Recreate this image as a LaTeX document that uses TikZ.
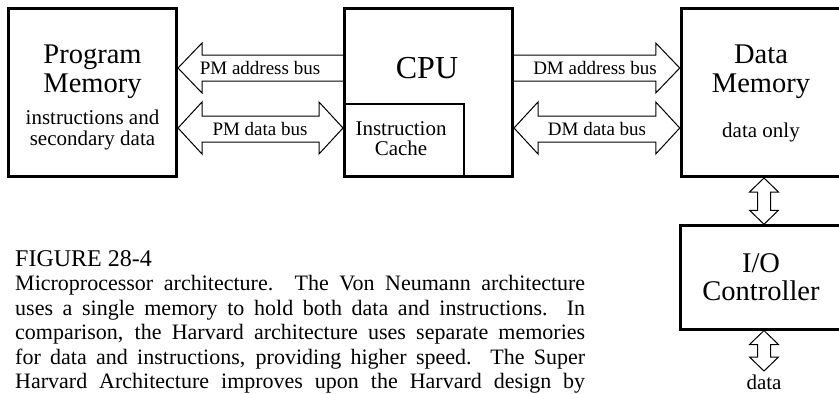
\documentclass[tikz,border=0pt]{standalone}
\usepackage{fontspec}
\setmainfont{Liberation Serif}
\usetikzlibrary{calc}
\begin{document}
\begin{tikzpicture}[x=1pt,y=-1pt,
  box/.style={draw,line width=3pt,inner sep=0pt},
  cachebox/.style={draw,line width=2pt,inner sep=0pt},
  bus/.style={draw,line width=1pt,line join=miter},
  lbltxt/.style={inner sep=0pt,anchor=base},
  bigtxt/.style={lbltxt,font=\fontsize{28.5}{30}\selectfont},
  hugetxt/.style={lbltxt,font=\fontsize{32}{34}\selectfont},
  midtxt/.style={lbltxt,font=\fontsize{21}{23}\selectfont},
  smalltxt/.style={lbltxt,font=\fontsize{19}{21}\selectfont},
  captxt/.style={inner sep=0pt,anchor=base west,font=\fontsize{22}{24.8}\selectfont},
  capfig/.style={captxt,font=\fontsize{24}{26}\selectfont}]
\useasboundingbox (0,0) rectangle (839,394);
\clip (0,0) rectangle (839,394);

% boxes
\node[box,minimum width=168pt,minimum height=168pt] (pm) at (92.5,92.5) {};
\node[box,minimum width=168pt,minimum height=168pt] (cpu) at (428.5,92.5) {};
\node[cachebox,minimum width=119.8pt,minimum height=72.2pt] (cache) at (404.4,140.4) {};
\node[box,minimum width=160.5pt,minimum height=168pt] (dm) at (761.5,92.5) {};
\node[box,minimum width=160.6pt,minimum height=103.3pt] (io) at (761,277.4) {};

% box texts
\node[bigtxt] (pmt1) at (92.5,63) {Program};
\node[bigtxt] (pmt2) at (92.5,92) {Memory};
\node[midtxt] (pmt3) at (92.5,124) {instructions and};
\node[midtxt] (pmt4) at (92.5,145) {secondary data};
\node[hugetxt] (cput) at (427,78) {CPU};
\node[midtxt] (cat1) at (401,135) {Instruction};
\node[midtxt] (cat2) at (401,155) {Cache};
\node[bigtxt] (dmt1) at (761,63) {Data};
\node[bigtxt] (dmt2) at (761,92) {Memory};
\node[midtxt] (dmt3) at (761,137) {data only};
\node[bigtxt] (iot1) at (761,272) {I/O};
\node[bigtxt] (iot2) at (761,300) {Controller};

% PM address bus (points left)
\draw[bus] (cpu.west|-0,55) -- ($(pm.east|-0,55)+(24,0)$) -- ++(0,-12)
  -- (pm.east|-0,68) -- ($(pm.east|-0,93)+(24,0)$) -- ++(0,-12) -- (cpu.west|-0,81);
% PM data bus (both ways)
\draw[bus] (pm.east|-0,128) -- ($(pm.east|-0,102)+(24,0)$) -- ++(0,14)
  -- ($(cpu.west|-0,116)+(-24,0)$) -- ++(0,-14) -- (cpu.west|-0,128)
  -- ($(cpu.west|-0,154)+(-24,0)$) -- ++(0,-12) -- ($(pm.east|-0,142)+(24,0)$)
  -- ++(0,12) -- cycle;
% DM address bus (points right)
\draw[bus] (cpu.east|-0,55) -- ($(dm.west|-0,55)+(-24,0)$) -- ++(0,-12)
  -- (dm.west|-0,68) -- ($(dm.west|-0,93)+(-24,0)$) -- ++(0,-12) -- (cpu.east|-0,81);
% DM data bus (both ways)
\draw[bus] (cpu.east|-0,128) -- ($(cpu.east|-0,102)+(24,0)$) -- ++(0,14)
  -- ($(dm.west|-0,116)+(-24,0)$) -- ++(0,-14) -- (dm.west|-0,128)
  -- ($(dm.west|-0,154)+(-24,0)$) -- ++(0,-12) -- ($(cpu.east|-0,142)+(24,0)$)
  -- ++(0,12) -- cycle;

\node[smalltxt] (pmab) at (260,74) {PM address bus};
\node[smalltxt] (pmdb) at (260,135) {PM data bus};
\node[smalltxt] (dmab) at (595,74) {DM address bus};
\node[smalltxt] (dmdb) at (597,135) {DM data bus};

% vertical arrow DM <-> I/O
\draw[bus] (764,0|-dm.south) -- ++(14.5,14) -- ++(-8,0)
  -- ($(764,0|-io.north)+(6.5,-14)$) -- ++(8,0) -- (764,0|-io.north)
  -- ++(-14.5,-14) -- ++(8,0) -- ($(764,0|-dm.south)+(-6.5,14)$) -- ++(-8,0) -- cycle;
% vertical arrow I/O <-> data
\coordinate (dataend) at (764,371);
\draw[bus] (764,0|-io.south) -- ++(14.5,14) -- ++(-8,0)
  -- ($(dataend)+(6.5,-14)$) -- ++(8,0) -- (dataend)
  -- ++(-14.5,-14) -- ++(8,0) -- ($(764,0|-io.south)+(-6.5,14)$) -- ++(-8,0) -- cycle;
\node[midtxt,font=\fontsize{21}{23}\selectfont] (datat) at (764,389) {data};

% caption
\node[capfig] (cap0) at (15,266) {FIGURE 28-4};
\node[captxt] (cap1) at (15,290.6) {\makebox[570pt][s]{Microprocessor architecture.\ \ The Von Neumann architecture}};
\node[captxt] (cap2) at (15,315.2) {\makebox[570pt][s]{uses a single memory to hold both data and instructions.\ \ In}};
\node[captxt] (cap3) at (15,339.8) {\makebox[570pt][s]{comparison, the Harvard architecture uses separate memories}};
\node[captxt] (cap4) at (15,364.4) {\makebox[570pt][s]{for data and instructions, providing higher speed.\ \ The Super}};
\node[captxt] (cap5) at (15,388.8) {\makebox[570pt][s]{Harvard Architecture improves upon the Harvard design by}};
\end{tikzpicture}
\end{document}
